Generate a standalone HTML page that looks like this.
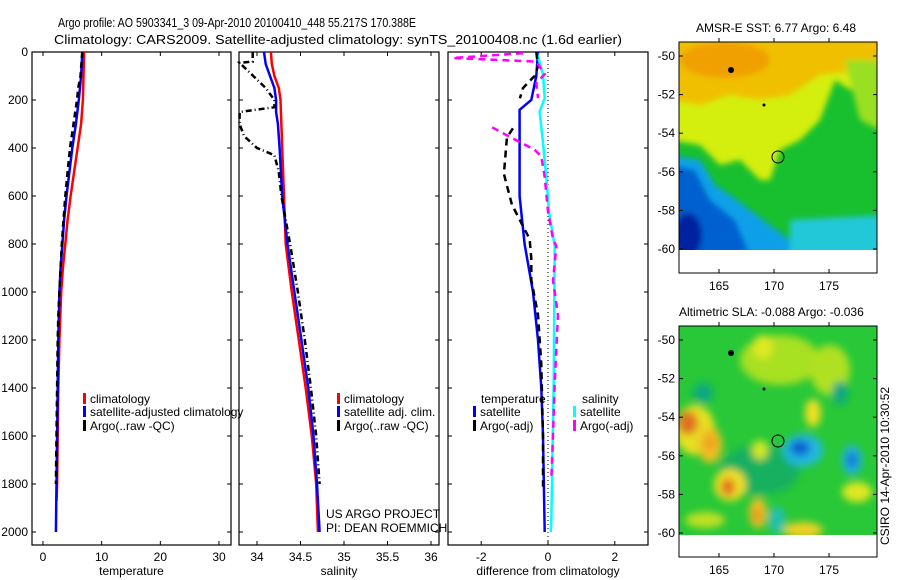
<!DOCTYPE html>
<html><head><meta charset="utf-8"><style>
html,body{margin:0;padding:0;background:#fff}
svg{display:block;font-family:"Liberation Sans",sans-serif}
</style></head><body>
<svg id="c" width="900" height="580" viewBox="0 0 900 580">
<defs>
<filter id="bl" x="-50%" y="-50%" width="200%" height="200%"><feGaussianBlur stdDeviation="3"/></filter>
<filter id="bl2" x="-50%" y="-50%" width="200%" height="200%"><feGaussianBlur stdDeviation="4"/></filter>
<clipPath id="m1"><rect x="679" y="42" width="198" height="208"/></clipPath>
<clipPath id="m2"><rect x="679" y="326" width="198" height="209"/></clipPath>
</defs>
<text x="58" y="27" font-size="13" textLength="358" lengthAdjust="spacingAndGlyphs">Argo profile: AO 5903341_3 09-Apr-2010 20100410_448 55.217S 170.388E</text>
<text x="54" y="44" font-size="13" textLength="568" lengthAdjust="spacingAndGlyphs">Climatology: CARS2009. Satellite-adjusted climatology: synTS_20100408.nc (1.6d earlier)</text>

<g id="maps">
<text x="776" y="32" font-size="12" text-anchor="middle">AMSR-E SST: 6.77 Argo: 6.48</text>
<g clip-path="url(#m1)">
<rect x="679" y="42" width="198" height="208" fill="#18c030"/>
<g filter="url(#bl)">
<polygon points="670,35 885,35 885,60 870,80 850,90 835,80 820,120 800,140 780,150 770,180 760,180 750,170 740,160 720,165 700,145 670,140" fill="#d4ee10"/>
<polygon points="670,35 885,35 885,55 860,70 820,75 790,95 760,100 730,95 700,105 670,100" fill="#f0c000"/>
<ellipse cx="725" cy="60" rx="45" ry="18" fill="#f0a000"/>
<polygon points="845,60 880,60 880,130 860,120" fill="#9ae020"/>
<polygon points="670,155 700,160 715,185 730,195 750,210 770,225 790,240 800,255 670,255" fill="#10a0e8"/>
<polygon points="670,165 695,170 710,200 735,220 750,255 670,255" fill="#0060d0"/>
<ellipse cx="688" cy="235" rx="14" ry="22" fill="#0020a0"/>
<polygon points="790,220 885,215 885,255 790,255" fill="#20c8d8"/>
</g>
<rect x="679" y="250" width="198" height="23" fill="#fff"/>
</g>
<rect x="679" y="42" width="198" height="231" fill="none" stroke="#000"/>
<circle cx="778" cy="157" r="6" fill="none" stroke="#000"/>
<circle cx="731" cy="70" r="3" fill="#000"/><circle cx="764" cy="105" r="1.5" fill="#000"/>

<text x="679" y="316" font-size="12">Altimetric SLA: -0.088 Argo: -0.036</text>
<g clip-path="url(#m2)">
<rect x="679" y="326" width="198" height="209" fill="#28c838"/>
<g filter="url(#bl2)">
<ellipse cx="780" cy="360" rx="40" ry="25" fill="#a8e020"/>
<ellipse cx="830" cy="370" rx="20" ry="25" fill="#b0e020"/>
<ellipse cx="763" cy="347" rx="10" ry="12" fill="#e0e820"/>
<ellipse cx="703" cy="393" rx="10" ry="10" fill="#10a880"/>
<ellipse cx="840" cy="393" rx="8" ry="12" fill="#10a880"/>
<ellipse cx="760" cy="470" rx="40" ry="25" fill="#18b060"/>
<ellipse cx="695" cy="430" rx="20" ry="25" fill="#e8e020"/>
<ellipse cx="688" cy="423" rx="10" ry="12" fill="#e07020"/>
<ellipse cx="710" cy="445" rx="12" ry="18" fill="#f0c020"/>
<ellipse cx="710" cy="443" rx="6" ry="8" fill="#f0a020"/>
<ellipse cx="730" cy="485" rx="16" ry="16" fill="#f0e020"/>
<ellipse cx="728" cy="487" rx="7" ry="9" fill="#e07020"/>
<ellipse cx="758" cy="513" rx="9" ry="15" fill="#f0c020"/>
<ellipse cx="757" cy="515" rx="4" ry="7" fill="#e09020"/>
<ellipse cx="803" cy="450" rx="20" ry="16" fill="#20b8e0"/>
<ellipse cx="800" cy="448" rx="10" ry="8" fill="#1060d0"/>
<ellipse cx="852" cy="460" rx="10" ry="15" fill="#20b0e0"/>
<ellipse cx="852" cy="460" rx="5" ry="7" fill="#1070d8"/>
<ellipse cx="813" cy="413" rx="8" ry="14" fill="#f0e020"/>
<ellipse cx="857" cy="492" rx="15" ry="10" fill="#e0e820"/>
<ellipse cx="803" cy="530" rx="20" ry="8" fill="#f0d020"/>
<ellipse cx="777" cy="520" rx="8" ry="14" fill="#20c0b0"/>
<ellipse cx="760" cy="450" rx="8" ry="10" fill="#d0e820"/>
<ellipse cx="705" cy="520" rx="20" ry="8" fill="#c0e020"/>
</g>
<rect x="679" y="535" width="198" height="22" fill="#fff"/>
</g>
<rect x="679" y="326" width="198" height="231" fill="none" stroke="#000"/>
<circle cx="778" cy="441" r="6" fill="none" stroke="#000"/>
<circle cx="731" cy="353" r="3" fill="#000"/><circle cx="764" cy="389" r="1.5" fill="#000"/>
<text transform="translate(889,545) rotate(-90)" font-size="12">CSIRO 14-Apr-2010 10:30:52</text>
</g>
<g id="axes"></g>
</svg>
<script>
// ---- data ----
const tempDepth = [0,100,200,300,400,500,600,700,800,900,1000,1200,1400,1600,1800,1870];
const tempClim = [7.0,6.9,6.8,6.5,5.9,5.3,4.7,4.2,3.8,3.4,3.1,2.8,2.6,2.5,2.4,2.3];
const tempSatDepth = [0,100,200,300,400,500,600,700,800,900,1000,1200,1400,1600,1800,2000];
const tempSat = [6.7,6.5,6.1,5.6,5.0,4.5,4.0,3.6,3.3,3.0,2.8,2.6,2.5,2.4,2.3,2.2];
const tempArgoDepth = [0,100,150,200,300,400,500,600,700,800,900,1000,1100,1200,1400,1600,1800];
const tempArgo = [6.7,6.4,6.0,5.8,5.2,4.6,4.2,3.8,3.5,3.2,3.0,2.8,2.6,2.5,2.4,2.3,2.2];

const salDepth = [0,50,100,150,200,400,600,800,1000,1200,1400,1600,1800,2000];
const salClim = [34.16,34.17,34.2,34.25,34.27,34.29,34.31,34.33,34.4,34.48,34.56,34.63,34.68,34.7];
const salSatDepth = [0,50,100,150,200,250,300,400,600,800,1000,1200,1400,1600,1800,2000];
const salSat = [34.08,34.1,34.15,34.2,34.22,34.22,34.24,34.26,34.29,34.35,34.43,34.51,34.59,34.65,34.69,34.72];
const salArgoDepth = [0,40,45,150,200,230,250,300,350,400,430,500,600,800,1000,1200,1400,1600,1800];
const salArgo = [33.95,33.95,33.8,34.1,34.2,34.2,33.8,33.8,33.85,34.0,34.2,34.25,34.28,34.38,34.47,34.55,34.62,34.68,34.72];

const diffTSatDepth = [0,100,200,241,400,600,800,1000,1200,1400,1600,2000];
const diffTSat = [-0.3,-0.35,-0.5,-0.85,-0.85,-0.85,-0.7,-0.45,-0.3,-0.2,-0.15,-0.1];
const diffTArgoDepth = [0,60,100,150,193,null,318,357,508,636,779,860,950,1095,1300,1600,1811];
const diffTArgo = [-0.35,-0.3,-0.4,-0.75,-0.84,null,-1.05,-1.23,-1.32,-1.08,-0.55,-0.5,-0.5,-0.3,-0.2,-0.15,-0.15];
const diffSSatDepth = [6,92,192,249,378,521,665,809,1381,1956,2000];
const diffSSat = [-0.33,-0.15,-0.1,-0.25,-0.15,-0.05,0.03,0.2,0.17,0.1,0.08];
const diffSArgoDepth = [5,25,40,92,130,192,null,314,364,407,436,521,665,779,809,952,1095,1381,1596,1784];
const diffSArgo = [-0.75,-2.85,-0.35,-0.1,-0.35,-0.3,null,-1.67,-1.0,-0.4,-0.2,-0.1,0,0.15,0.25,0.15,0.3,0.2,0.15,0.1];

const depthTicks = [0,200,400,600,800,1000,1200,1400,1600,1800,2000];
const tempTicks = [0,10,20,30];
const salTicks = [34,34.5,35,35.5,36];
const diffTicks = [-2,0,2];
const latTicks = [-50,-52,-54,-56,-58,-60];
const lonTicks = [165,170,175];

// ---- scales ----
const yTop = 52, yBot = 545;
const yD = d => yTop + d*0.24;
const xT = v => 43 + v*5.867;
const xS = v => 257 + (v-34)*87;
const xD = v => 548 + v*33.4;
const yLat1 = v => 56 + (-50 - v)*19.3;
const yLat2 = v => 340 + (-50 - v)*19.3;
const xLon = v => 719 + (v-165)*11;

const NS='http://www.w3.org/2000/svg';
const g = document.getElementById('axes');
function mk(tag, attrs, parent){const e=document.createElementNS(NS,tag);for(const k in attrs)e.setAttribute(k,attrs[k]);(parent||g).appendChild(e);return e;}
function txt(x,y,s,anchor,size){const e=mk('text',{x:x,y:y,'font-size':size||12,'text-anchor':anchor||'start'});e.textContent=s;return e;}

function series(depths, vals, xf, color, dash, name){
  let segs=[], cur=[];
  for(let i=0;i<depths.length;i++){
    if(depths[i]===null||vals[i]===null){if(cur.length)segs.push(cur);cur=[];continue;}
    cur.push(xf(vals[i]).toFixed(1)+','+yD(depths[i]).toFixed(1));
  }
  if(cur.length)segs.push(cur);
  segs.forEach(s=>{
    const p=mk('polyline',{points:s.join(' '),fill:'none',stroke:color,'stroke-width':2.5});
    if(dash)p.setAttribute('stroke-dasharray',dash);
    
    
  });
}

function panel(x0,x1,ticks,xf,xlabel,name){
  const fr=mk('rect',{x:x0,y:yTop,width:x1-x0,height:yBot-yTop,fill:'none',stroke:'#000','stroke-width':1.2});
  
  
  ticks.forEach(t=>{
    const x=xf(t);
    mk('line',{x1:x,x2:x,y1:yTop,y2:yTop+4,stroke:'#000'});
    mk('line',{x1:x,x2:x,y1:yBot,y2:yBot-4,stroke:'#000'});
    const l=txt(x,561,String(t),'middle');
    
    
  });
  depthTicks.forEach(d=>{
    mk('line',{x1:x0,x2:x0+4,y1:yD(d),y2:yD(d),stroke:'#000'});
    mk('line',{x1:x1,x2:x1-4,y1:yD(d),y2:yD(d),stroke:'#000'});
  });
  const t=txt((x0+x1)/2,575,xlabel,'middle');
  
  
}
panel(32,231,tempTicks,xT,'temperature','temperature-panel');
panel(239,439,salTicks,xS,'salinity','salinity-panel');
panel(448,648,diffTicks,xD,'difference from climatology','difference-panel');
depthTicks.forEach(d=>{
  const l=txt(28,yD(d)+4,String(d),'end');
  
  
});

const z=mk('line',{x1:xD(0),x2:xD(0),y1:yTop,y2:yBot,stroke:'#000','stroke-dasharray':'1,3'});



series(tempDepth,tempClim,xT,'#f00',null,'temp-climatology-line');
series(tempSatDepth,tempSat,xT,'#00f',null,'temp-satellite-line');
series(tempArgoDepth,tempArgo,xT,'#000','6,4','temp-argo-line');
series(salDepth,salClim,xS,'#f00',null,'sal-climatology-line');
series(salSatDepth,salSat,xS,'#00f',null,'sal-satellite-line');
series(salArgoDepth,salArgo,xS,'#000','6,3,1,3','sal-argo-line');
series(diffTSatDepth,diffTSat,xD,'#00f',null,'diff-temp-satellite-line');
series(diffSSatDepth,diffSSat,xD,'#0ff',null,'diff-sal-satellite-line');
series(diffTArgoDepth,diffTArgo,xD,'#000','7,5','diff-temp-argo-line');
series(diffSArgoDepth,diffSArgo,xD,'#f0f','7,5','diff-sal-argo-line');

function legend(x,y,color,label,name){
  mk('rect',{x:x,y:y-10,width:3,height:11,fill:color});
  const t=txt(x+7,y,label);
  
  
}
legend(83,403,'#f00','climatology','legend-temp-climatology');
legend(83,416,'#00f','satellite-adjusted climatology','legend-temp-satellite');
legend(83,430,'#000','Argo(..raw -QC)','legend-temp-argo');
legend(337,403,'#f00','climatology','legend-sal-climatology');
legend(337,416,'#00f','satellite adj. clim.','legend-sal-satellite');
legend(337,430,'#000','Argo(..raw -QC)','legend-sal-argo');
const lt=txt(481,403,'temperature');


const ls=txt(582,403,'salinity');


legend(473,416,'#00f','satellite','legend-diff-temp-satellite');
legend(473,430,'#000','Argo(-adj)','legend-diff-temp-argo');
legend(573,416,'#0ff','satellite','legend-diff-sal-satellite');
legend(573,430,'#f0f','Argo(-adj)','legend-diff-sal-argo');
const us=txt(326,518,'US ARGO PROJECT');


const pi=txt(326,532,'PI: DEAN ROEMMICH');



// map axes
[[yLat1,42,273,290],[yLat2,326,557,574]].forEach(([yf,yt,yb,ly])=>{
  latTicks.forEach(v=>{
    const y=yf(v);
    mk('line',{x1:679,x2:683,y1:y,y2:y,stroke:'#000'});
    mk('line',{x1:877,x2:873,y1:y,y2:y,stroke:'#000'});
    const l=txt(675,y+4,String(v),'end');
    
    
  });
  lonTicks.forEach(v=>{
    const x=xLon(v);
    mk('line',{x1:x,x2:x,y1:yb,y2:yb-4,stroke:'#000'});
    mk('line',{x1:x,x2:x,y1:yt,y2:yt-4,stroke:'#000'});
    const l=txt(x,ly,String(v),'middle');
    
    
  });
});
</script>
</body></html>
